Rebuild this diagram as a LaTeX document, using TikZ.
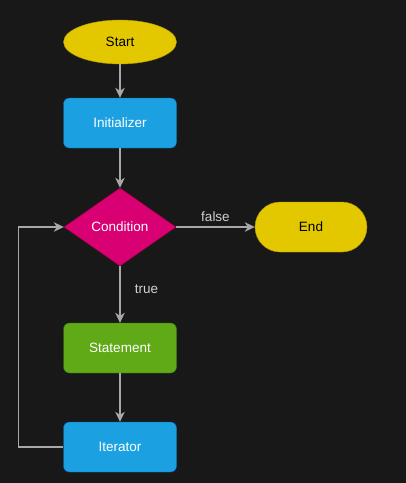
\documentclass[tikz,border=0pt]{standalone}
\usepackage{fontspec}
\setmainfont{Liberation Sans}
\usetikzlibrary{shapes.geometric,arrows.meta}

\definecolor{bgdark}{HTML}{181818}
\definecolor{flowgray}{HTML}{A8A8A8}
\definecolor{labelgray}{HTML}{D0D0D0}
\definecolor{termfill}{HTML}{E3C800}
\definecolor{termline}{HTML}{B09500}
\definecolor{stepfill}{HTML}{1BA1E2}
\definecolor{stepline}{HTML}{006EAF}
\definecolor{testfill}{HTML}{D80073}
\definecolor{testline}{HTML}{A50040}
\definecolor{bodyfill}{HTML}{60A917}
\definecolor{bodyline}{HTML}{2D7600}

\begin{document}
\begin{tikzpicture}[x=1pt, y=-1pt,
    every node/.style={font=\fontsize{13.5}{16}\selectfont},
    terminal/.style={ellipse, fill=termfill, draw=termline, text=black,
      minimum width=113pt, minimum height=44pt, inner sep=0pt},
    stopbox/.style={rectangle, rounded corners=25pt, fill=termfill, draw=termline,
      text=black, minimum width=112pt, minimum height=50pt, inner sep=0pt},
    stepbox/.style={rectangle, rounded corners=6pt, fill=stepfill, draw=stepline,
      text=white, minimum width=113pt, minimum height=50pt, inner sep=0pt},
    bodybox/.style={stepbox, fill=bodyfill, draw=bodyline},
    testbox/.style={diamond, fill=testfill, draw=testline, text=white,
      minimum width=112pt, minimum height=78pt, inner sep=0pt},
    flow/.style={draw=flowgray, line width=1.1pt,
      -{Stealth[length=10pt, width=9.5pt, inset=3pt]}},
    flowlabel/.style={text=labelgray}]
            % background fixes the page size
            \fill[bgdark] (0,0) rectangle (406,483);

            \node[terminal] (start) at (120, 42) {Start};
            \node[stepbox] (init) at (120, 123) {Initializer};
            \node[testbox] (cond) at (120, 227) {Condition};
            \node[stopbox] (stop) at (311, 227) {End};
            \node[bodybox] (stmt) at (120, 348) {Statement};
            \node[stepbox] (iter) at (120, 447) {Iterator};

            \draw[flow] (start) -- (init);
            \draw[flow] (init) -- (cond);
            \draw[flow] (cond) -- node[flowlabel, above=1pt]{false} (stop);
            \draw[flow] (cond) -- node[flowlabel, pos=0.4, right=11pt]{true} (stmt);
            \draw[flow] (stmt) -- (iter);
            \draw[flow] (iter.west) -- ++(-45,0) |- (cond.west);
        \end{tikzpicture}
\end{document}
